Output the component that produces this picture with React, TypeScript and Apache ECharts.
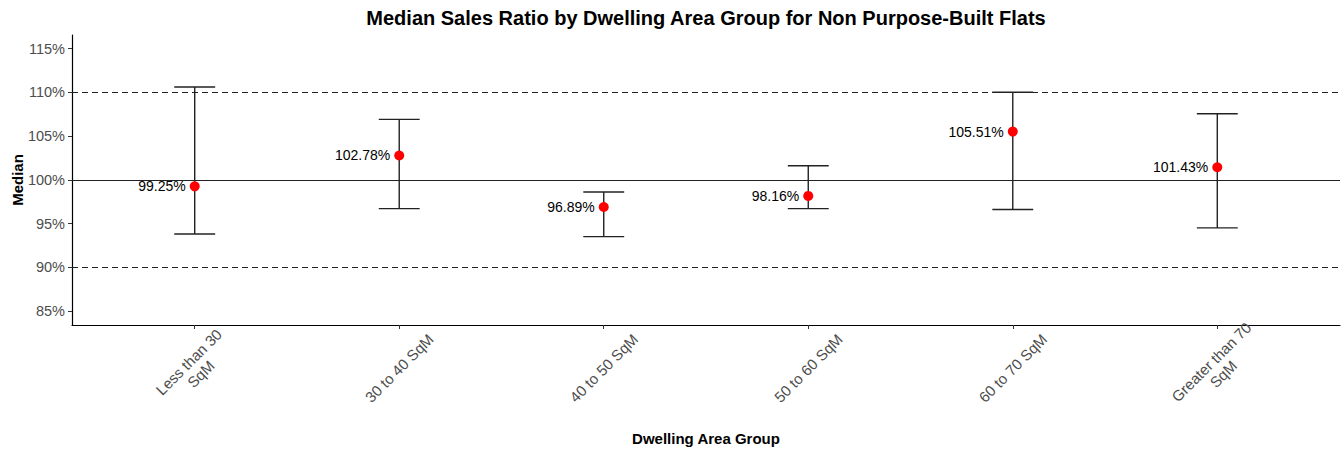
import React, { useEffect, useRef } from "react";
import * as echarts from "echarts";

const categories = [
  "Less than 30\nSqM",
  "30 to 40 SqM",
  "40 to 50 SqM",
  "50 to 60 SqM",
  "60 to 70 SqM",
  "Greater than 70\nSqM",
];
const medians = [99.25, 102.78, 96.89, 98.16, 105.51, 101.43];
const upperBounds = [110.6, 106.9, 98.6, 101.6, 110.0, 107.55];
const lowerBounds = [93.8, 96.7, 93.5, 96.7, 96.6, 94.5];
const yTicks = [85, 90, 95, 100, 105, 110, 115];
const refLines = [90, 100, 110];

const FONT = "'Liberation Sans', Arial, Helvetica, sans-serif";

export default function App() {
  const ref = useRef<HTMLDivElement>(null);
  useEffect(() => {
    if (!ref.current) return;
    const chart = echarts.init(ref.current, undefined, { renderer: "svg" });
    const idx = categories.map((_, i) => i);
    const option: any = {
      animation: false,
      backgroundColor: "#ffffff",
      textStyle: { fontFamily: FONT },
      grid: { left: 72, right: 4, top: 35, bottom: 125, containLabel: false },
      graphic: [
        {
          type: "text",
          x: 706,
          y: 18,
          style: {
            text: "Median Sales Ratio by Dwelling Area Group for Non Purpose-Built Flats",
            font: `bold 20px ${FONT}`,
            fill: "#000",
            textAlign: "center",
            textVerticalAlign: "middle",
          },
        },
        {
          type: "text",
          x: 706,
          y: 438,
          style: {
            text: "Dwelling Area Group",
            font: `bold 15px ${FONT}`,
            fill: "#000",
            textAlign: "center",
            textVerticalAlign: "middle",
          },
        },
        {
          type: "text",
          x: 17,
          y: 180,
          rotation: Math.PI / 2,
          style: {
            text: "Median",
            font: `bold 15px ${FONT}`,
            fill: "#000",
            textAlign: "center",
            textVerticalAlign: "middle",
          },
        },
      ],
      xAxis: {
        type: "value",
        min: -0.6,
        max: 5.6,
        splitLine: { show: false },
        axisLine: { show: true, onZero: false, lineStyle: { color: "#000", width: 1.2 } },
        axisTick: {
          show: true,
          customValues: idx,
          length: 4,
          lineStyle: { color: "#333", width: 1 },
        },
        axisLabel: {
          customValues: idx,
          formatter: (v: number) => categories[Math.round(v)] ?? "",
          rotate: 45,
          align: "center",
          verticalAlign: "middle",
          margin: 43,
          color: "#4d4d4d",
          fontSize: 15,
          lineHeight: 17,
          fontFamily: FONT,
        },
      },
      yAxis: {
        type: "value",
        min: 83.4,
        max: 116.55,
        splitLine: { show: false },
        axisLine: { show: true, onZero: false, lineStyle: { color: "#000", width: 1.2 } },
        axisTick: {
          show: true,
          customValues: yTicks,
          length: 4,
          lineStyle: { color: "#333", width: 1 },
        },
        axisLabel: {
          customValues: yTicks,
          formatter: (v: number) => `${v}%`,
          color: "#4d4d4d",
          fontSize: 14.5,
          margin: 7,
          fontFamily: FONT,
        },
      },
      series: [
        {
          type: "custom",
          z: 2,
          data: idx.map((i) => [i, lowerBounds[i], upperBounds[i]]),
          renderItem: (_params: any, api: any) => {
            const x = api.value(0);
            const lo = api.value(1);
            const hi = api.value(2);
            const top = api.coord([x, hi]);
            const bot = api.coord([x, lo]);
            const tl = api.coord([x - 0.1, hi]);
            const tr = api.coord([x + 0.1, hi]);
            const bl = api.coord([x - 0.1, lo]);
            const br = api.coord([x + 0.1, lo]);
            const style = { stroke: "#222", lineWidth: 1.4 };
            return {
              type: "group",
              children: [
                { type: "line", shape: { x1: top[0], y1: top[1], x2: bot[0], y2: bot[1] }, style },
                { type: "line", shape: { x1: tl[0], y1: tl[1], x2: tr[0], y2: tr[1] }, style },
                { type: "line", shape: { x1: bl[0], y1: bl[1], x2: br[0], y2: br[1] }, style },
              ],
            };
          },
          markLine: {
            silent: true,
            symbol: "none",
            label: { show: false },
            data: refLines.map((v) => ({
              yAxis: v,
              lineStyle: {
                color: "#222",
                width: 1.2,
                type: v === 100 ? "solid" : [6, 4],
              },
            })),
          },
        },
        {
          type: "scatter",
          z: 3,
          symbol: "circle",
          symbolSize: 10,
          itemStyle: { color: "#ff0000", opacity: 1 },
          data: idx.map((i) => [i, medians[i]]),
          label: {
            show: true,
            position: "left",
            distance: 4,
            color: "#000",
            fontSize: 14,
            fontFamily: FONT,
            formatter: (p: any) => `${p.value[1].toFixed(2)}%`,
          },
        },
      ],
    };
    chart.setOption(option);
    return () => chart.dispose();
  }, []);
  return (
    <div
      ref={ref}
      style={{ position: "absolute", left: 0, top: 0, width: 1344, height: 450 }}
    />
  );
}
